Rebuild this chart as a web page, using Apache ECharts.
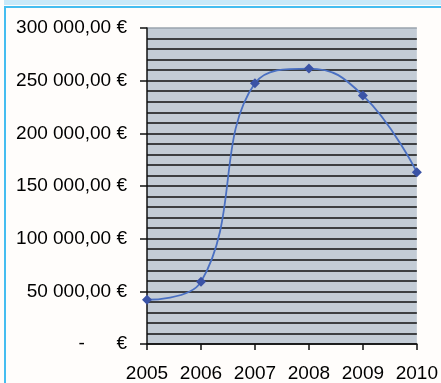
<!DOCTYPE html>
<html>
<head>
<meta charset="utf-8">
<script src="https://cdn.jsdelivr.net/npm/echarts@6/dist/echarts.min.js"></script>
<style>
  html, body { margin: 0; padding: 0; background: #fffdfb; }
  #chart { width: 441px; height: 383px; }
</style>
</head>
<body>
<div id="chart"></div>
<script>
// Yearly amounts in euros
const years = ['2005', '2006', '2007', '2008', '2009', '2010'];
const amounts = [42000, 59000, 247500, 261500, 236000, 163000];
const yTicks = [0, 50000, 100000, 150000, 200000, 250000, 300000];

function euro(v) {
  if (v === 0) return '-      €';
  const s = Math.round(v).toString().replace(/\B(?=(\d{3})+(?!\d))/g, ' ');
  return s + ',00 €';
}

const chart = echarts.init(document.getElementById('chart'));
const font = '"Liberation Sans", Arial, sans-serif';

chart.setOption({
  animation: false,
  backgroundColor: '#fffdfb',
  graphic: [
    { type: 'rect', shape: { x: 4, y: 0, width: 437, height: 5 }, style: { fill: '#c9e9f9' } },
    { type: 'rect', shape: { x: 4, y: 6, width: 437, height: 2 }, style: { fill: '#45bdf0' } },
    { type: 'rect', shape: { x: 4, y: 6, width: 2, height: 377 }, style: { fill: '#45bdf0' } }
  ],
  grid: { left: 147, right: 23, top: 28, bottom: 39, containLabel: false,
          show: true, backgroundColor: '#c3ccd6', borderWidth: 0 },
  xAxis: {
    type: 'category',
    data: years,
    boundaryGap: false,
    axisLine: { lineStyle: { color: '#111', width: 1.5 } },
    axisTick: { show: true, length: 6, interval: 0, alignWithLabel: true, lineStyle: { color: '#111', width: 1.5 } },
    axisLabel: { color: '#000', fontFamily: font, fontSize: 19, margin: 20, interval: 0 },
    splitLine: { show: false }
  },
  yAxis: {
    type: 'value',
    min: yTicks[0],
    max: yTicks[yTicks.length - 1],
    interval: 50000,
    axisLine: { show: true, lineStyle: { color: '#111', width: 1.5 } },
    axisTick: { show: true, length: 7, lineStyle: { color: '#111', width: 1.5 } },
    axisLabel: { color: '#000', fontFamily: font, fontSize: 19, margin: 20, formatter: euro },
    splitLine: { show: true, lineStyle: { color: ['#111', '#111', '#111', '#111', '#111', '#111', '#9aa3ad'], width: 1.6 } },
    minorTick: { show: false, splitNumber: 5 },
    minorSplitLine: { show: true, lineStyle: { color: '#111', width: 1.6 } }
  },
  series: [{
    type: 'line',
    data: amounts,
    smooth: 0.45,
    symbol: 'diamond',
    symbolSize: 10,
    lineStyle: { color: '#4a70c2', width: 1.8 },
    itemStyle: { color: '#3a53a6' }
  }]
});
</script>
</body>
</html>
